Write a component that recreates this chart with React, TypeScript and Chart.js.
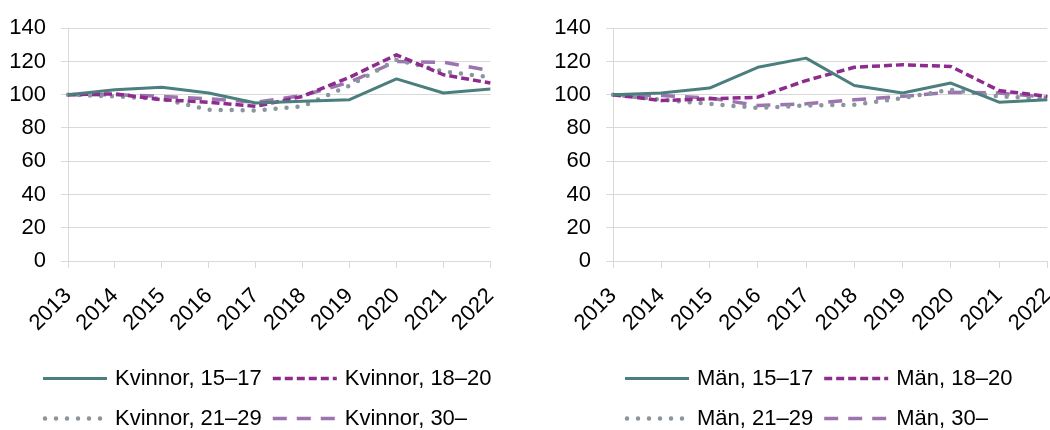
import { useEffect, useRef } from "react";
import { Chart, registerables } from "chart.js";

Chart.register(...registerables);

const years = ["2013", "2014", "2015", "2016", "2017", "2018", "2019", "2020", "2021", "2022"];

const womenLabels = ["Kvinnor, 15–17", "Kvinnor, 18–20", "Kvinnor, 21–29", "Kvinnor, 30–"];
const menLabels = ["Män, 15–17", "Män, 18–20", "Män, 21–29", "Män, 30–"];

const women1517 = [100, 103, 104.5, 101, 95, 96, 97, 109.5, 101, 103.5];
const women1820 = [100, 100.5, 97, 95.5, 93, 99, 110.5, 124, 112, 107];
const women2129 = [100, 99, 97.5, 91, 90.5, 93, 105.5, 121, 114, 110.5];
const women30 = [100, 100, 99, 97.5, 95.5, 99.5, 107.5, 120, 119.5, 114.5];

const men1517 = [100, 101, 104, 116.5, 122, 105.5, 101, 107, 95.5, 97];
const men1820 = [100, 96.5, 97.5, 98.5, 108.5, 116.5, 118, 117, 102.5, 99];
const men2129 = [100, 97, 94.5, 92, 93.5, 94, 98, 103, 99, 97.5];
const men30 = [100, 99.5, 98, 93.5, 94.5, 97, 99, 101.5, 101, 98.5];

const yMin = 0;
const yMax = 140;
const yStep = 20;

const seriesStyles = [
  { color: "#4A7F7D", width: 3, dash: [] as number[], cap: "butt" },
  { color: "#8E2B8E", width: 3.5, dash: [8, 4], cap: "butt" },
  { color: "#8A959E", width: 4.5, dash: [0, 11], cap: "round" },
  { color: "#9C74B0", width: 3.5, dash: [14, 10], cap: "butt" },
];

const FONT = "'Liberation Sans', Arial, Helvetica, sans-serif";
const GRID = "#D9D9D9";
const LEGEND_LINE = 64;

const legendLines = {
  id: "legendLines",
  afterLayout(chart: any, _args: any, opts: any) {
    if (chart.legend && opts && opts.shift) {
      chart.legend.left = chart.legend.left + opts.shift;
    }
  },
  afterDraw(chart: any) {
    const legend = chart.legend;
    if (!legend || !legend.legendHitBoxes || !legend.legendItems) return;
    const ctx = chart.ctx;
    legend.legendItems.forEach((item: any, i: number) => {
      const box = legend.legendHitBoxes[i];
      const ds = chart.data.datasets[item.datasetIndex];
      if (!box || !ds) return;
      const y = box.top + box.height / 2;
      ctx.save();
      ctx.strokeStyle = ds.borderColor;
      ctx.lineWidth = ds.borderWidth;
      ctx.setLineDash(ds.borderDash || []);
      ctx.lineCap = ds.borderCapStyle || "butt";
      ctx.beginPath();
      const start = ds.borderCapStyle === "round" ? box.left + 2 : box.left;
      ctx.moveTo(start, y);
      ctx.lineTo(box.left + LEGEND_LINE, y);
      ctx.stroke();
      ctx.restore();
    });
  },
};

type PanelProps = {
  left: number;
  width: number;
  height: number;
  yWidth: number;
  xHeight: number;
  legendShift: number;
  labels: string[];
  series: number[][];
};

function Panel({ left, width, height, yWidth, xHeight, legendShift, labels, series }: PanelProps) {
  const ref = useRef<HTMLCanvasElement | null>(null);

  useEffect(() => {
    if (!ref.current) return;
    const chart = new Chart(ref.current, {
      type: "line",
      data: {
        labels: years,
        datasets: series.map((values, i) => ({
          label: labels[i],
          data: values,
          borderColor: seriesStyles[i].color,
          backgroundColor: seriesStyles[i].color,
          borderWidth: seriesStyles[i].width,
          borderDash: seriesStyles[i].dash,
          borderCapStyle: seriesStyles[i].cap as any,
          borderJoinStyle: "round" as any,
          pointRadius: 0,
          pointHoverRadius: 0,
          tension: 0,
          fill: false,
        })),
      },
      options: {
        animation: false,
        responsive: false,
        maintainAspectRatio: false,
        devicePixelRatio: 1,
        layout: { padding: { left: 0, top: 24, right: 0, bottom: 0 } },
        scales: {
          x: {
            offset: false,
            grid: { display: true, drawOnChartArea: false, drawTicks: true, tickLength: 7, color: GRID, lineWidth: 1 },
            border: { display: true, color: GRID, width: 1 },
            ticks: {
              minRotation: 45,
              maxRotation: 45,
              autoSkip: false,
              padding: 15,
              color: "#000",
              font: { family: FONT, size: 22 },
            },
            afterFit: (s: any) => {
              s.height = xHeight;
            },
          },
          y: {
            min: yMin,
            max: yMax,
            grid: { color: GRID, lineWidth: 1, drawTicks: true, tickLength: 7 },
            border: { display: true, color: GRID, width: 1 },
            ticks: {
              stepSize: yStep,
              padding: 15,
              color: "#000",
              font: { family: FONT, size: 22 },
            },
            afterFit: (s: any) => {
              s.width = yWidth;
            },
          },
        },
        plugins: {
          tooltip: { enabled: false },
          legendLines: { shift: legendShift },
          legend: {
            display: true,
            position: "bottom",
            align: "start",
            labels: {
              boxWidth: 61,
              boxHeight: 29,
              padding: 11,
              color: "#000",
              font: { family: FONT, size: 22 },
              generateLabels: (c: any) =>
                (Chart.defaults.plugins.legend.labels as any).generateLabels(c).map((l: any) => ({
                  ...l,
                  fillStyle: "rgba(0,0,0,0)",
                  strokeStyle: "rgba(0,0,0,0)",
                  lineWidth: 0,
                })),
            },
          },
        } as any,
      },
      plugins: [legendLines],
    });
    return () => chart.destroy();
  }, []);

  return (
    <canvas
      ref={ref}
      width={width}
      height={height}
      style={{ position: "absolute", left, top: 0, width, height, display: "block" }}
    />
  );
}

export default function App() {
  return (
    <div
      style={{
        position: "absolute",
        left: 0,
        top: 0,
        width: 1050,
        height: 430,
        overflow: "hidden",
        background: "#fff",
      }}
    >
      <Panel
        left={0}
        width={524}
        height={443}
        yWidth={68}
        xHeight={92}
        legendShift={32}
        labels={womenLabels}
        series={[women1517, women1820, women2129, women30]}
      />
      <Panel
        left={530}
        width={551}
        height={443}
        yWidth={83}
        xHeight={92}
        legendShift={84}
        labels={menLabels}
        series={[men1517, men1820, men2129, men30]}
      />
    </div>
  );
}
